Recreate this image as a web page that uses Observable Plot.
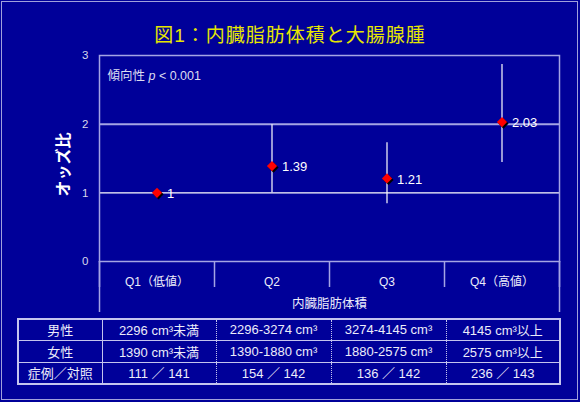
<!DOCTYPE html>
<html>
<head>
<meta charset="utf-8">
<script src="https://cdn.jsdelivr.net/npm/d3@7"></script>
<script src="https://cdn.jsdelivr.net/npm/@observablehq/plot@0.6"></script>
<style>
  html, body { margin: 0; padding: 0; background: #000099; }
  #page { position: relative; width: 580px; height: 402px; background: #000099; overflow: hidden;
          font-family: "Liberation Sans", Arial, "Noto Sans CJK JP", sans-serif; }
  #border { position: absolute; left: 1px; top: 1px; width: 575px; height: 397px; border: 1px solid #a0a0dc; pointer-events: none; }
  #title { position: absolute; left: 0; top: 25px; width: 580px; text-align: center; color: #e6e600;
           font-size: 19px; line-height: 22px; letter-spacing: 1px; font-family: "Liberation Sans", "Noto Sans CJK JP", sans-serif; }
  #chart { position: absolute; left: 0; top: 0; }
  #tbl { position: absolute; left: 17px; top: 318px; border-collapse: collapse; table-layout: fixed;
         color: #ececfa; font-size: 13px; font-family: "Liberation Sans", Arial, "Noto Sans CJK JP", sans-serif;
         border: 2px solid #c4c4ee; }
  #tbl td { border: 1px solid #c4c4ee; text-align: center; padding: 0; white-space: nowrap; }
  #tbl td.q { border-left: 1px dotted #c4c4ee; border-right: 1px dotted #c4c4ee; }
  #tbl td.h { border-right: 1px solid #c4c4ee; }
</style>
</head>
<body>
<div id="page">
  <div id="chart"></div>
  <div id="title"></div>
  <table id="tbl"></table>
  <div id="border"></div>
</div>
<script>
// ---- data ----
const title = "図1：内臓脂肪体積と大腸腺腫";
const categories = ["Q1（低値）", "Q2", "Q3", "Q4（高値）"];
const oddsRatios = [1, 1.39, 1.21, 2.03];
const ciLower = [null, 1.00, 0.84, 1.44];
const ciUpper = [null, 1.99, 1.73, 2.87];
const valueLabels = ["1", "1.39", "1.21", "2.03"];
const yTicks = [0, 1, 2, 3];
const yLabel = "オッズ比";
const xLabel = "内臓脂肪体積";
const trendNote = ["傾向性 ", "p", " < 0.001"];
const rowHeaders = ["男性", "女性", "症例／対照"];
const maleRanges = ["2296 cm³未満", "2296-3274 cm³", "3274-4145 cm³", "4145 cm³以上"];
const femaleRanges = ["1390 cm³未満", "1390-1880 cm³", "1880-2575 cm³", "2575 cm³以上"];
const caseControl = ["111 ／ 141", "154 ／ 142", "136 ／ 142", "236 ／ 143"];

// ---- build ----
const rows = categories.map((c, i) => ({
  category: c, pos: i + 0.5, or: oddsRatios[i], lo: ciLower[i], hi: ciUpper[i], label: valueLabels[i]
}));
const positions = rows.map(d => d.pos);
const boundaries = d3.range(categories.length + 1);
const lineColor = "#a4a4e4";
const font = "'Liberation Sans', Arial, 'Noto Sans CJK JP', sans-serif";

document.getElementById("title").textContent = title;

const chart = Plot.plot({
  width: 580,
  height: 312,
  marginLeft: 99,
  marginRight: 21,
  marginTop: 55,
  marginBottom: 51,
  x: {domain: [0, categories.length]},
  y: {domain: [0, 3]},
  style: {background: "transparent", color: "#ffffff", fontFamily: font, overflow: "visible"},
  marks: [
    Plot.ruleY([1], {stroke: "#ffffff", strokeWidth: 1.2}),
    Plot.ruleY([2], {stroke: lineColor, strokeWidth: 2}),
    Plot.frame({stroke: lineColor, strokeWidth: 1.5}),
    Plot.axisY({ticks: yTicks, tickSize: 0, tickPadding: 11, tickFormat: d => String(d),
                fontSize: 11.5, color: "#d8d8ec", label: null}),
    Plot.axisX({ticks: boundaries, tickSize: 26, tickFormat: () => "", color: lineColor, strokeWidth: 1.5, label: null}),
    Plot.axisX({ticks: [0, categories.length], tickSize: 51, tickFormat: () => "", color: lineColor, strokeWidth: 1.5, label: null}),
    Plot.axisX({ticks: positions, tickSize: 0, tickPadding: 16,
                tickFormat: d => categories[Math.floor(d)], fontSize: 12, color: "#ececfa", label: null}),
    Plot.text([xLabel], {frameAnchor: "bottom", dy: 46, fontSize: 12.5, fill: "#ececfa"}),
    Plot.text([yLabel], {frameAnchor: "left", rotate: -90, dx: -36, dy: 38, fontSize: 16, fontWeight: "bold", fill: "#ffffff"}),
    Plot.ruleX(rows.filter(d => d.lo != null), {x: "pos", y1: "lo", y2: "hi", stroke: "#ffffff", strokeWidth: 1.2}),
    Plot.dot(rows, {x: "pos", y: "or", symbol: "diamond2", r: 4.6, fill: "#000000", stroke: "none", dx: 1.5, dy: 1.5}),
    Plot.dot(rows, {x: "pos", y: "or", symbol: "diamond2", r: 4.6, fill: "#ff0000", stroke: "none"}),
    Plot.text(rows, {x: "pos", y: "or", text: "label", dx: 10, dy: 1, textAnchor: "start", fontSize: 13, fill: "#ffffff"}),
    Plot.text([trendNote.join("")], {frameAnchor: "top-left", dx: 8, dy: 16, textAnchor: "start", fontSize: 12.5, fill: "#dcdcf0"})
  ]
});

// italicise the "p" in the trend note
d3.select(chart).selectAll("text").filter(function() { return this.textContent === trendNote.join(""); })
  .each(function() {
    const t = d3.select(this);
    t.text(null);
    t.append("tspan").text(trendNote[0]);
    t.append("tspan").attr("font-style", "italic").text(trendNote[1]);
    t.append("tspan").text(trendNote[2]);
  });

document.getElementById("chart").appendChild(chart);

// ---- table ----
const tbl = d3.select("#tbl");
const colWidths = [84, 114, 115, 115, 114];
const cg = tbl.append("colgroup");
colWidths.forEach(w => cg.append("col").style("width", w + "px"));
const tableRows = [maleRanges, femaleRanges, caseControl];
const rowHeights = [21, 22, 22];
tableRows.forEach((vals, r) => {
  const tr = tbl.append("tr").style("height", rowHeights[r] + "px");
  tr.append("td").attr("class", "h").text(rowHeaders[r]);
  vals.forEach(v => tr.append("td").attr("class", "q").text(v));
});
</script>
</body>
</html>
